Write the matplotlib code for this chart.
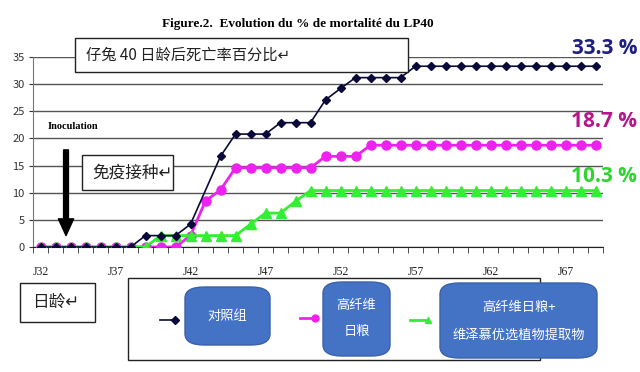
import numpy as np
import matplotlib
matplotlib.use("Agg")
import matplotlib.pyplot as plt
from matplotlib.patches import Rectangle, FancyBboxPatch
from matplotlib.lines import Line2D

plt.rcParams['font.family'] = ['Noto Sans CJK SC', 'DejaVu Sans']

# days J32 .. J69
days = np.arange(32, 70)

# mortality (%), one value per day
control = [0, 0, 0, 0, 0, 0, 0, 2.1, 2.1, 2.1, 4.2, np.nan, 16.7, 20.8, 20.8, 20.8,
           22.9, 22.9, 22.9, 27.1, 29.2, 31.2, 31.2, 31.2, 31.2] + [33.3] * 13
high_fiber = [0, 0, 0, 0, 0, 0, 0, 0, 0, 0, 2.1, 8.5, 10.5, 14.6, 14.6, 14.6,
              14.6, 14.6, 14.6, 16.7, 16.7, 16.7] + [18.75] * 16
fiber_plant = [0, 0, 0, 0, 0, 0, 0, 0, 2.1, 2.1, 2.1, 2.1, 2.1, 2.1, 4.2, 6.25,
               6.25, 8.4] + [10.4] * 20

tick_days = [32, 37, 42, 47, 52, 57, 62, 67]
final_labels = ['33.3 %', '18.7 %', '10.3 %']

fig = plt.figure(figsize=(6.4, 3.72), dpi=100)
fig.patch.set_facecolor('white')
ax = fig.add_axes([33 / 640, 1 - 247 / 372, 570 / 640, 190 / 372])
ax.set_facecolor('none')

c = np.array(control, dtype=float)
ok = ~np.isnan(c)
ax.plot(days, high_fiber, color='#ee22ee', lw=2, marker='o', ms=6.5, zorder=3)
ax.plot(days, fiber_plant, color='#33ee33', lw=2, marker='^', ms=6.5, zorder=4)
ax.plot(days[ok], c[ok], color='#0a0a3a', lw=1.2, marker='D', ms=4, zorder=5)

ax.set_xlim(31.5, 69.5)
ax.set_ylim(0, 35)
ax.set_yticks(range(0, 36, 5))
ax.set_xticks(tick_days)
ax.set_xticklabels(['J%d' % d for d in tick_days], family='Liberation Serif', fontsize=8.5)
ax.set_xticks(np.arange(31.5, 70, 1), minor=True)
ax.tick_params(axis='x', which='major', length=0, pad=14, colors='#222222')
ax.tick_params(axis='x', which='minor', length=4, direction='out', color='#333333')
ax.tick_params(axis='y', length=3, direction='out', labelsize=8, colors='#333333', pad=3)
ax.grid(axis='y', color='#555555', lw=1)
for s in ['top', 'right']:
    ax.spines[s].set_visible(False)
ax.spines['left'].set_color('#777777')
ax.spines['bottom'].set_color('#222222')

# inoculation arrow
ax.annotate('', xy=(33.7, 1.6), xytext=(33.7, 18.4),
            arrowprops=dict(arrowstyle='simple,head_width=1.1,head_length=1.2,tail_width=0.35',
                            color='black'), zorder=6)
fig.text(48 / 640, 1 - 127 / 372, 'Inoculation', family='Liberation Serif',
         fontweight='bold', fontsize=7.5, va='center')

fig.text(298 / 640, 1 - 24 / 372, 'Figure.2.  Evolution du % de mortalité du LP40',
         family='Liberation Serif', fontweight='bold', fontsize=9.5, ha='center', va='center')

# white boxes with Chinese captions
def white_box(x0, y0, x1, y1):
    fig.add_artist(Rectangle((x0 / 640, 1 - y1 / 372), (x1 - x0) / 640, (y1 - y0) / 372,
                             transform=fig.transFigure, facecolor='white',
                             edgecolor='#222222', lw=1, zorder=10))

white_box(75, 38, 408, 72)
fig.text(86 / 640, 1 - 55 / 372, '仔兔 40 日龄后死亡率百分比↵', fontsize=11,
         va='center', color='#222222', zorder=11)
white_box(82, 155, 173, 190)
fig.text(92 / 640, 1 - 173 / 372, '免疫接种↵', fontsize=12,
         va='center', color='#222222', zorder=11)
white_box(20, 283, 95, 322)
fig.text(32 / 640, 1 - 302 / 372, '日龄↵', fontsize=12,
         va='center', color='#222222', zorder=11)

# final values on the right
colors_final = ['#1f1f80', '#b5178a', '#2ed52e']
ys_final = [48, 122, 176]
for lab, col, yy in zip(final_labels, colors_final, ys_final):
    fig.text(637 / 640, 1 - yy / 372, lab, color=col, fontsize=15, ha='right',
             va='center', family='Open Sans', fontweight='bold')

# legend box
white_box(128, 278, 540, 360)
legend_items = [
    ('#0a0a3a', 'D', 4, 1.2, 160, 175, 320),
    ('#ee22ee', 'o', 5, 2, 300, 315, 318),
    ('#33ee33', '^', 5, 2, 410, 428, 320),
]
for col, mk, ms, lw, xa, xb, yy in legend_items:
    fig.add_artist(Line2D([xa / 640, xb / 640], [1 - yy / 372, 1 - yy / 372],
                          transform=fig.transFigure, color=col, lw=lw, marker=mk,
                          ms=ms, markevery=[1], zorder=11))

def blue_box(x0, y0, x1, y1, lines, ys):
    fig.add_artist(FancyBboxPatch((x0 / 640, 1 - y1 / 372), (x1 - x0) / 640, (y1 - y0) / 372,
                                  boxstyle='round,pad=0,rounding_size=0.03',
                                  transform=fig.transFigure, facecolor='#4472c4',
                                  edgecolor='#3a62a8', lw=1, zorder=12))
    for t, yy in zip(lines, ys):
        fig.text((x0 + x1) / 2 / 640, 1 - yy / 372, t, color='white', fontsize=9.5,
                 ha='center', va='center', zorder=13)

blue_box(185, 287, 270, 345, ['对照组'], [316])
blue_box(323, 282, 390, 356, ['高纤维', '日粮'], [305, 331])
blue_box(440, 283, 597, 358, ['高纤维日粮+', '维泽慕优选植物提取物'], [307, 335])

fig.savefig('out.png', dpi=100)
